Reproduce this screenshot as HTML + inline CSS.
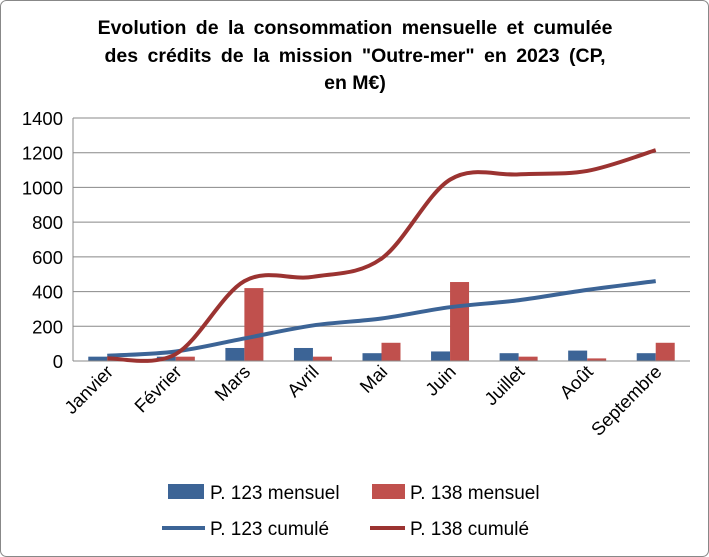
<!DOCTYPE html>
<html><head><meta charset="utf-8"><style>
body{margin:0;background:#fff}
svg{display:block;font-family:"Liberation Sans",Arial,sans-serif}
</style></head><body>
<svg id="s" width="709" height="557" xmlns="http://www.w3.org/2000/svg">
<rect x="0.5" y="0.5" width="708" height="556" rx="6" fill="#fff" stroke="#888"/>
<text x="355" y="34" text-anchor="middle" font-size="19.5" font-weight="bold" word-spacing="4">Evolution de la consommation mensuelle et cumulée</text>
<text x="355" y="62" text-anchor="middle" font-size="19.5" font-weight="bold" word-spacing="4">des crédits de la mission "Outre-mer" en 2023 (CP,</text>
<text x="355" y="89" text-anchor="middle" font-size="19.5" font-weight="bold">en M€)</text>
<g id="g"></g>
<rect x="168" y="484" width="36" height="15" fill="#3c6496"/>
<text x="210" y="499" font-size="19">P. 123 mensuel</text>
<rect x="372" y="484" width="33" height="15" fill="#c0504d"/>
<text x="410" y="499" font-size="19">P. 138 mensuel</text>
<line x1="162" y1="528" x2="205" y2="528" stroke="#3c6496" stroke-width="4"/>
<text x="210" y="535" font-size="19">P. 123 cumulé</text>
<line x1="370" y1="528" x2="405" y2="528" stroke="#9b3331" stroke-width="4"/>
<text x="410" y="535" font-size="19">P. 138 cumulé</text>
</svg>
<script>
var g=document.getElementById('g'),h='';
function Y(v){return 361-v*243/1400}
var x0=73,x1=690,w=(x1-x0)/9;
for(var v=0;v<=1400;v+=200){var y=Y(v);
 if(v>0)h+='<line x1="'+x0+'" y1="'+y+'" x2="'+x1+'" y2="'+y+'" stroke="#888" stroke-width="1"/>';
 h+='<text x="63" y="'+(y+7)+'" text-anchor="end" font-size="18.5">'+v+'</text>';}
var b=[25,25,75,75,45,55,45,60,45],r=[15,25,420,25,105,455,25,15,105];
var cb=[30,55,130,205,245,310,350,410,460],cr=[15,40,460,485,590,1045,1075,1095,1215];
var m=['Janvier','Février','Mars','Avril','Mai','Juin','Juillet','Août','Septembre'];
for(var i=0;i<9;i++){var c=x0+w*(i+.5);
 h+='<rect x="'+(c-19)+'" y="'+Y(b[i])+'" width="19" height="'+(361-Y(b[i]))+'" fill="#3c6496"/>';
 h+='<rect x="'+c+'" y="'+Y(r[i])+'" width="19" height="'+(361-Y(r[i]))+'" fill="#c0504d"/>';
 h+='<text transform="translate('+(c+7)+',373) rotate(-45)" text-anchor="end" font-size="18.5">'+m[i]+'</text>';}
h+='<line x1="'+x0+'" y1="361" x2="'+x1+'" y2="361" stroke="#888"/><line x1="'+x0+'" y1="118" x2="'+x0+'" y2="361" stroke="#888"/>';
function path(a,col){var p=a.map(function(v,i){return[x0+w*(i+.5),Y(v)]}),d='M'+p[0];
 for(var i=0;i<p.length-1;i++){var p0=p[i-1]||p[i],p1=p[i],p2=p[i+1],p3=p[i+2]||p2,t=6;
 d+='C'+(p1[0]+(p2[0]-p0[0])/t)+','+(p1[1]+(p2[1]-p0[1])/t)+' '+(p2[0]-(p3[0]-p1[0])/t)+','+(p2[1]-(p3[1]-p1[1])/t)+' '+p2;}
 return '<path d="'+d+'" fill="none" stroke="'+col+'" stroke-width="4"/>';}
h+=path(cb,'#3c6496')+path(cr,'#9b3331');
g.innerHTML=h;
</script>
</body></html>
